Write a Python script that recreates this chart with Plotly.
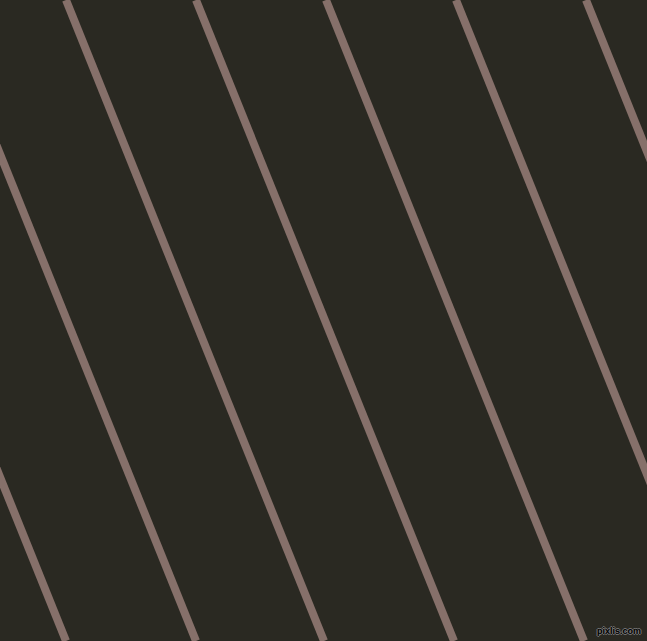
import plotly.graph_objects as go

# x position of each stripe where it meets the top edge (y=0) and the bottom edge (y=641)
top_x = [-192, -62, 66, 196, 326, 456, 586]
bottom_x = [66, 196, 324, 454, 584, 714, 844]
line_color = "#86706a"
bg_color = "#2a2922"

fig = go.Figure()
for tx, bx in zip(top_x, bottom_x):
    fig.add_trace(go.Scatter(
        x=[tx, bx], y=[0, 641], mode="lines",
        line=dict(color=line_color, width=8),
        hoverinfo="skip", showlegend=False,
    ))

fig.add_annotation(
    x=643, y=638, xref="x", yref="y", xanchor="right", yanchor="bottom",
    text="<b>pixlis.com</b>", showarrow=False,
    font=dict(family="Liberation Sans", size=9, color="#000000",
              shadow="1px 0px 0px #777777, -1px 0px 0px #777777, 0px 1px 0px #777777, 0px -1px 0px #777777"),
)

fig.update_layout(
    width=647, height=641,
    margin=dict(l=0, r=0, t=0, b=0),
    paper_bgcolor=bg_color, plot_bgcolor=bg_color,
    xaxis=dict(range=[0, 647], visible=False, fixedrange=True),
    yaxis=dict(range=[641, 0], visible=False, fixedrange=True),
)
fig.write_html(
    "out.html",
    config={"staticPlot": True},
    post_script="document.body.style.margin='0px';document.body.style.overflow='hidden';",
)
